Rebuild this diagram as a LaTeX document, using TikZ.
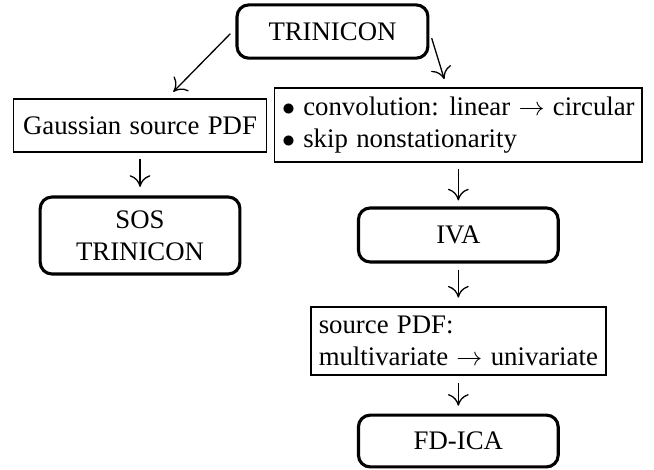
\documentclass[tikz,border=0pt]{standalone}
\usepackage{fontspec}
\setmainfont{Liberation Serif}
\usetikzlibrary{arrows.meta}
\newcommand\boxfont{\fontsize{10.3pt}{12.4pt}\selectfont\spaceskip=3.2pt plus 1pt minus 1pt\relax}

\begin{document}
\begin{tikzpicture}[
    font=\boxfont,
    method/.style={draw, very thick, rounded corners=4.5pt, align=center, minimum width=2.7cm},
    change/.style={draw, semithick, align=left, inner sep=2.6pt},
    link/.style={-{To[length=4.5pt,width=8pt]}, line width=0.5pt}
]

% Frame
\useasboundingbox (0,0) rectangle (8.84,-6.34);

% Methods (rounded boxes)
\node[method, minimum width=2.58cm, minimum height=0.72cm] (trinicon) at (4.494,-0.426) {TRINICON};
\node[method, minimum height=1.04cm] (sos) at (1.893,-3.183) {SOS\\TRINICON};
\node[method, minimum height=0.73cm] (iva) at (6.195,-3.176) {IVA};
\node[method, minimum height=0.70cm] (fdica) at (6.195,-5.961) {FD-ICA};

% Simplifications (plain boxes)
\node[change, minimum width=3.42cm, minimum height=0.71cm, align=center] (gauss) at (1.893,-1.696) {Gaussian source PDF};
\node[change, minimum width=4.97cm, minimum height=1.0cm] (nonstat) at (6.195,-1.690)
    {$\bullet$ convolution: linear $\to$ circular\\$\bullet$ skip nonstationarity};
\node[change, minimum width=3.99cm, minimum height=0.92cm] (srcpdf) at (6.195,-4.609)
    {source PDF:\\multivariate $\to$ univariate};

% Arrows from TRINICON
\draw[link] ([xshift=-0.07cm,yshift=-0.03cm]trinicon.west) -- ([xshift=0.45cm,yshift=0.09cm]gauss.north);
\draw[link] ([xshift=0.03cm,yshift=-0.09cm]trinicon.east) -- ([xshift=-0.19cm,yshift=0.11cm]nonstat.north);

% Left branch
\draw[link, shorten <=2.3pt, shorten >=3.3pt] (gauss.south) -- (sos.north);

% Right branch
\draw[link, shorten <=2.3pt, shorten >=2.3pt] (nonstat.south) -- (iva.north);
\draw[link, shorten <=2.3pt, shorten >=3.3pt] (iva.south) -- (srcpdf.north);
\draw[link, shorten <=2.6pt, shorten >=3pt] (srcpdf.south) -- (fdica.north);

\end{tikzpicture}
\end{document}
